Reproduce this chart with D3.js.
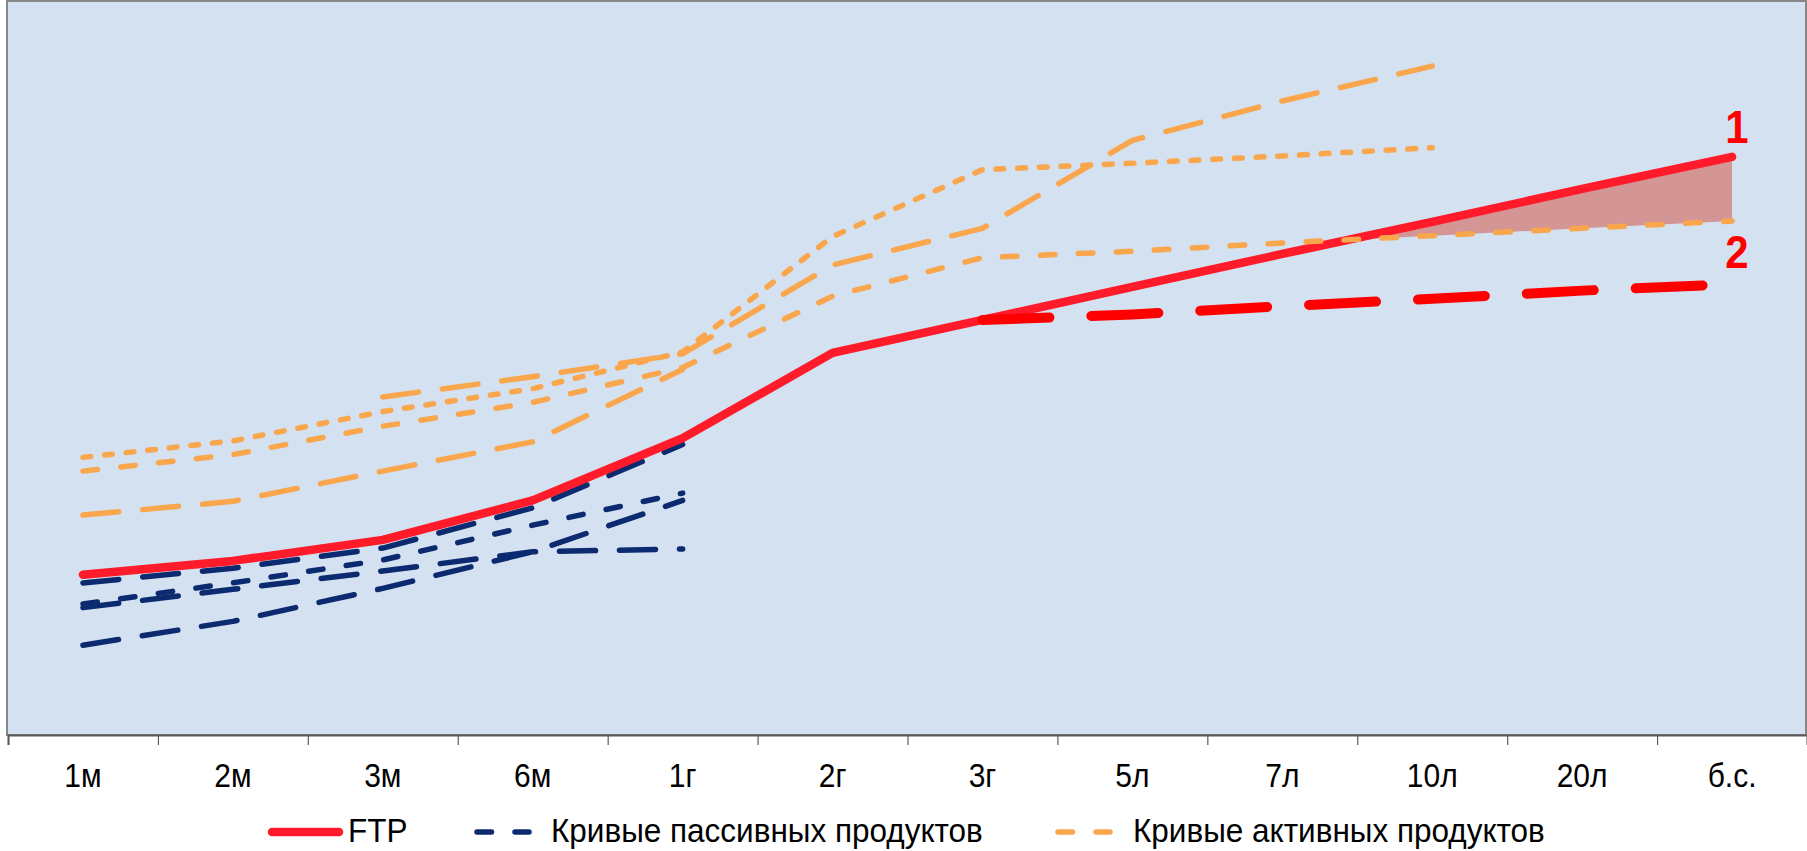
<!DOCTYPE html>
<html>
<head>
<meta charset="utf-8">
<script src="https://cdn.jsdelivr.net/npm/d3@7"></script>
<style>
  body { margin: 0; background: #ffffff; }
  text { font-family: "Liberation Sans", Arial, sans-serif; }
</style>
</head>
<body>
<svg id="chart" width="1807" height="851"></svg>
<script>
// Maturities on the x axis
const categories = ["1м", "2м", "3м", "6м", "1г", "2г", "3г", "5л", "7л", "10л", "20л", "б.с."];

// FTP curve (1) and its alternative continuation (2), rate units
const ftp    = [1.75, 1.90, 2.13, 2.56, 3.24, 4.17, 4.53, 4.89, 5.25, 5.60, 5.96, 6.31];
const ftpAlt = [null, null, null, null, null, null, 4.53, 4.59, 4.68, 4.76, 4.85, 4.92];

// Passive product curves (short end only)
const passive1 = [1.66, 1.82, 2.04, 2.48, 3.17];
const passive2 = [1.39, 1.59, 1.79, 2.00, 2.03];
const passive3 = [1.43, 1.66, 1.91, 2.29, 2.64];
const passive4 = [0.98, 1.24, 1.60, 2.00, 2.56];

// Active product curves
const active1 = [3.03, 3.21, 3.53, 3.78, 4.18, 5.44, 6.17, 6.24, 6.32, 6.41];
const active2 = [2.88, 3.06, 3.37, 3.63, 4.01, 4.79, 5.21, 5.28, 5.37, 5.45, 5.53, 5.61];
const active3 = [2.40, 2.55, 2.88, 3.20, 3.99];
const active4 = [null, null, 3.69, 3.91, 4.16, 5.13, 5.53, 6.49, 6.92, 7.30];

const legendLabels = ["FTP", "Кривые пассивных продуктов", "Кривые активных продуктов"];
const curveLabels = ["1", "2"];

// Colours and dash styles
const RED = "#ff1b29", RED_ALT = "#ff0000", NAVY = "#0b2a6f", ORANGE = "#f9a64c";
const DASH_SHORT = "7.8 13.9", DASH_MED = "14.5 23.5", DASH_LONG = "36 24";
const TEXT_STRETCH = 1.12; // labels are drawn slightly taller than the base font

const svg = d3.select("#chart");
const plot = { left: 8, right: 1807, top: 2, bottom: 735 };

const x = d3.scaleBand().domain(categories).range([plot.left, plot.right]).padding(0);
const xc = c => x(c) + x.bandwidth() / 2;
const y = d3.scaleLinear().domain([0, 8]).range([plot.bottom, plot.top]);

// Plot area background and frame
svg.append("rect")
  .attr("x", 7).attr("y", 1)
  .attr("width", 1799).attr("height", plot.bottom - 1)
  .attr("fill", "#d4e1f0")
  .attr("stroke", "#878787").attr("stroke-width", 2);

// Tick marks at category boundaries
const tickScale = d3.scaleLinear().domain([0, categories.length]).range([plot.left, plot.right]);
svg.append("g")
  .attr("transform", `translate(0,${plot.bottom})`)
  .call(d3.axisBottom(tickScale).tickValues(d3.range(categories.length + 1)).tickSize(10).tickFormat(""))
  .call(g => g.select(".domain").attr("stroke", "#5a5a5a").attr("stroke-width", 2))
  .call(g => g.selectAll(".tick line").attr("stroke", "#5a5a5a").attr("stroke-width", 1.2));

// Category labels
svg.append("g")
  .attr("transform", `translate(0,${plot.bottom})`)
  .call(d3.axisBottom(x).tickSize(0))
  .call(g => g.select(".domain").remove())
  .call(g => g.selectAll("text")
    .attr("y", 0).attr("dy", null)
    .attr("transform", `translate(0,52) scale(1,${TEXT_STRETCH})`)
    .attr("font-size", 30)
    .attr("font-family", "'Liberation Sans', Arial, sans-serif")
    .attr("fill", "#000"));

const line = d3.line()
  .defined(d => d.v != null)
  .x(d => xc(d.c))
  .y(d => y(d.v));
const toPoints = arr => arr.map((v, i) => ({ c: categories[i], v }));

// Shaded gap between FTP and the long-end active curve
(function () {
  const pts = [];
  for (let i = 0; i < categories.length; i++) {
    const a = ftp[i], b = active2[i];
    if (a == null || b == null) continue;
    const prevA = ftp[i - 1], prevB = active2[i - 1];
    if (i > 0 && prevA != null && prevB != null) {
      const d0 = prevA - prevB, d1 = a - b;
      if (d0 < 0 && d1 >= 0) {
        const t = -d0 / (d1 - d0);
        const px = xc(categories[i - 1]) + t * (xc(categories[i]) - xc(categories[i - 1]));
        const v = prevA + t * (a - prevA);
        pts.push({ px, top: v, bottom: v });
      }
    }
    if (a - b >= 0) pts.push({ px: xc(categories[i]), top: a, bottom: b });
  }
  svg.append("path")
    .datum(pts)
    .attr("fill", "#d49595")
    .attr("d", d3.area().x(d => d.px).y0(d => y(d.bottom)).y1(d => y(d.top)));
})();

function drawCurve(values, color, width, dash) {
  svg.append("path")
    .datum(toPoints(values))
    .attr("fill", "none")
    .attr("stroke", color)
    .attr("stroke-width", width)
    .attr("stroke-linecap", "round")
    .attr("stroke-linejoin", "round")
    .attr("stroke-dasharray", dash)
    .attr("d", line);
}

// Passive curves
drawCurve(passive1, NAVY, 5.5, DASH_LONG);
drawCurve(passive2, NAVY, 5.5, DASH_LONG);
drawCurve(passive3, NAVY, 5.5, DASH_MED);
drawCurve(passive4, NAVY, 5.5, DASH_LONG);

// FTP and alternative
drawCurve(ftp, RED, 8.5, null);
drawCurve(ftpAlt, RED_ALT, 10, "67 42");

// Active curves
drawCurve(active1, ORANGE, 5.5, DASH_SHORT);
drawCurve(active2, ORANGE, 5.5, DASH_MED);
drawCurve(active3, ORANGE, 5.5, DASH_LONG);
drawCurve(active4, ORANGE, 5.5, DASH_LONG);

// Curve markers "1" and "2" at the long end
const last = categories[categories.length - 1];
[
  { label: curveLabels[0], yPos: y(ftp[ftp.length - 1]) - 14 },
  { label: curveLabels[1], yPos: y(active2[active2.length - 1]) + 47 }
].forEach(m => {
  svg.append("text")
    .attr("transform", `translate(${xc(last) + 5},${m.yPos}) scale(1,1.08)`)
    .attr("text-anchor", "middle").attr("font-size", 42).attr("font-weight", "bold")
    .attr("fill", RED_ALT).text(m.label);
});

// Legend
const legend = svg.append("g").attr("transform", "translate(0,832)");
const legendItems = [
  { label: legendLabels[0], color: RED, width: 8.5, dash: null, x0: 272, x1: 339, tx: 348 },
  { label: legendLabels[1], color: NAVY, width: 5.5, dash: DASH_MED, x0: 477, x1: 529, tx: 551 },
  { label: legendLabels[2], color: ORANGE, width: 5.5, dash: DASH_MED, x0: 1058, x1: 1110, tx: 1133 }
];
legendItems.forEach(it => {
  legend.append("line")
    .attr("x1", it.x0).attr("x2", it.x1).attr("y1", 0).attr("y2", 0)
    .attr("stroke", it.color).attr("stroke-width", it.width)
    .attr("stroke-linecap", "round")
    .attr("stroke-dasharray", it.dash);
  legend.append("text")
    .attr("transform", `translate(${it.tx},10) scale(1,1.05)`)
    .attr("font-size", 31.5).attr("fill", "#000")
    .text(it.label);
});
</script>
</body>
</html>
